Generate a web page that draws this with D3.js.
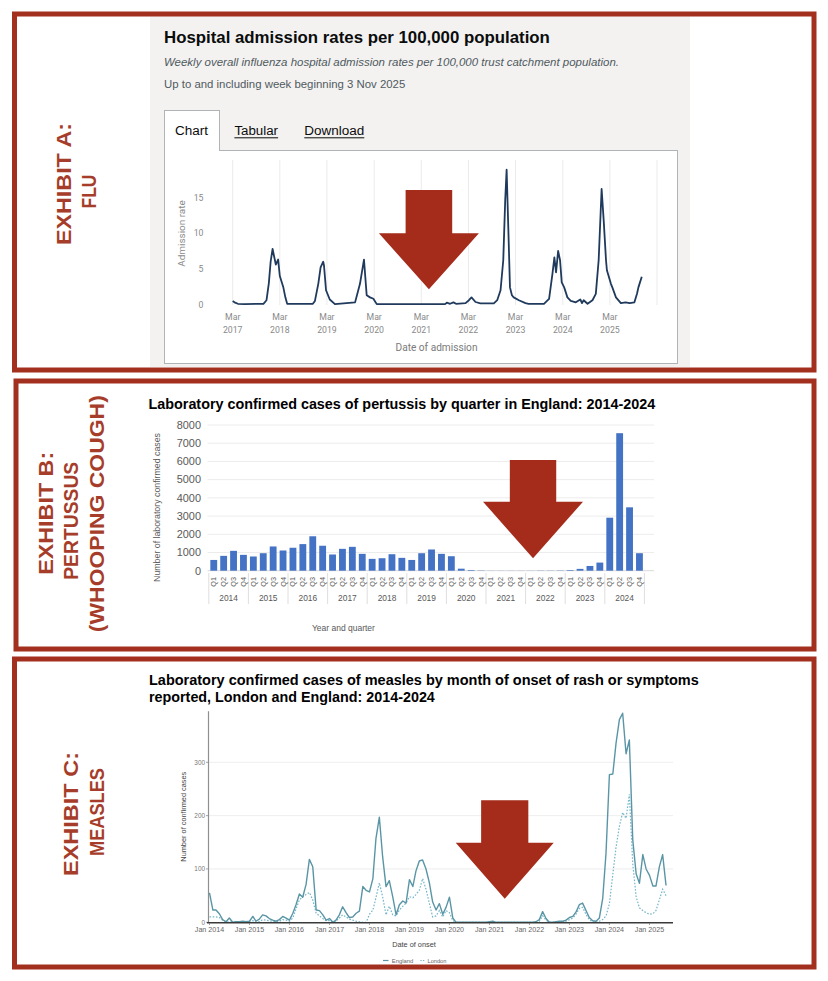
<!DOCTYPE html>
<html><head><meta charset="utf-8">
<script src="https://cdn.jsdelivr.net/npm/d3@7"></script>
<style>body{margin:0;background:#fff}svg{display:block}</style>
</head><body>
<svg id="chart" width="828" height="981"></svg>
<script>
// ---------------- DATA ----------------
// Exhibit A: weekly influenza hospital admission rate (key points)
const fluDates = ["2017-03-01","2017-03-15","2017-04-10","2017-06-01","2017-10-25","2017-11-18","2017-12-06","2017-12-20","2018-01-04","2018-01-14","2018-01-29","2018-02-16","2018-03-01","2018-03-27","2018-04-13","2018-04-27","2018-11-12","2018-11-28","2018-12-24","2019-01-11","2019-01-31","2019-02-06","2019-02-22","2019-03-23","2019-05-02","2019-10-05","2019-11-12","2019-12-13","2020-01-03","2020-01-29","2020-02-24","2020-03-21","2021-09-01","2021-09-15","2021-10-10","2021-11-05","2021-11-25","2022-02-07","2022-03-05","2022-03-25","2022-04-25","2022-06-02","2022-09-14","2022-10-10","2022-11-05","2022-11-26","2022-12-11","2022-12-22","2023-01-04","2023-01-17","2023-02-01","2023-02-15","2023-03-27","2023-05-17","2023-06-10","2023-10-07","2023-11-16","2023-12-12","2023-12-27","2024-01-09","2024-01-25","2024-02-09","2024-02-22","2024-03-12","2024-04-06","2024-05-02","2024-06-10","2024-07-15","2024-07-28","2024-08-10","2024-09-09","2024-10-17","2024-11-12","2024-12-04","2024-12-27","2025-01-12","2025-01-30","2025-02-06","2025-03-09","2025-03-20","2025-04-17","2025-05-25","2025-07-01","2025-08-01","2025-09-07","2025-09-27","2025-10-08","2025-11-03"];
const fluRates = [0.5,0.3,0.1,0.05,0.1,0.6,3.0,6.0,7.8,6.9,5.6,6.3,4.0,2.5,1.0,0.1,0.1,0.5,2.9,5.2,6.0,5.5,2.0,0.7,0.05,0.3,2.9,6.3,1.3,1.0,0.8,0.05,0.05,0.25,0.1,0.3,0.1,0.2,0.6,1.0,0.35,0.15,0.15,0.6,2.0,6.2,14.6,18.9,10.8,2.4,1.3,1.0,0.6,0.2,0.1,0.1,0.8,4.3,6.6,4.5,7.5,6.2,3.1,2.4,1.0,0.5,0.3,0.7,0.2,0.6,0.1,0.6,1.5,6.2,16.2,11.8,6.2,4.8,2.9,2.4,1.0,0.2,0.3,0.2,0.3,1.5,2.4,3.9];
const fluYTicks = [0,5,10,15];
const fluTickYears = [2017,2018,2019,2020,2021,2022,2023,2024,2025];
const fluGridYears = [2017,2018,2019,2020,2021,2022,2023,2024,2025,2026];

// Exhibit B: pertussis cases by quarter
const pertussisYears = [2014,2015,2016,2017,2018,2019,2020,2021,2022,2023,2024];
const pertussisQuarters = ["Q1","Q2","Q3","Q4"];
const pertussisCases = [590,815,1090,870, 780,960,1330,1110, 1260,1460,1890,1370, 890,1200,1310,925, 650,685,905,705, 590,960,1165,925, 795,110,35,15, 5,5,5,5, 5,10,10,15, 35,100,260,445, 2910,7550,3480,960];
const pertussisYTicks = [0,1000,2000,3000,4000,5000,6000,7000,8000];

// Exhibit C: measles cases by month (Jan 2014 - Jun 2025)
const measlesStart = "2014-01-01";
const measlesEngland = [55,23,23,16,5,1,8,0,1,1,2,1, 2,11,2,6,14,12,7,4,2,5,11,8, 4,17,33,53,47,71,118,104,23,22,14,4, 7,0,4,14,29,18,9,10,17,21,67,60, 57,82,157,197,123,67,78,48,14,33,40,36, 80,67,96,115,117,100,75,38,23,35,15,28, 47,8,0,0,0,0,0,0,0,0,0,0, 1,2,0,0,0,0,0,0,0,0,0,0, 0,0,1,5,20,7,0,0,1,2,2,4, 9,11,19,33,36,22,9,3,2,8,45,130, 277,278,335,380,392,316,342,155,91,73,127,100, 88,68,68,104,127,69];
const measlesLondon = [10,10,10,9,4,0,1,0,0,0,1,0, 0,3,0,1,5,4,3,2,1,2,5,4, 2,8,25,42,48,52,56,42,17,12,7,3, 3,0,2,8,14,10,6,4,2,1,0,0, 15,23,46,74,48,14,30,14,12,23,30,36, 48,46,52,60,82,62,36,10,12,22,10,22, 18,3,0,0,0,0,0,0,0,0,0,0, 0,0,0,0,0,0,0,0,0,0,0,0, 0,0,0,2,12,4,0,0,0,1,1,2, 5,8,15,26,28,15,5,1,0,2,5,12, 35,90,140,180,206,195,240,110,48,27,22,18, 15,16,22,42,62,50];
const measlesYTicks = [0,100,200,300];
const measlesTickYears = [2014,2015,2016,2017,2018,2019,2020,2021,2022,2023,2024,2025];

// Annotation arrows (in each chart's data units)
const fluArrow = {date:"2021-04-29", top:16.05, neck:9.98, tip:2.13};
const pertArrow = {quarterIndex:32.25, top:6080, neck:3790, tip:680};
const measlesArrow = {date:"2021-05-20", top:229, neck:149, tip:44};

// Side labels
const exhibitLabels = [
  ["EXHIBIT A:","FLU"],
  ["EXHIBIT B:","PERTUSSUS","(WHOOPING COUGH)"],
  ["EXHIBIT C:","MEASLES"]
];

// ---------------- HELPERS ----------------
const svg = d3.select("#chart");
const BORDER = "#a3301f", ARROW = "#a52b1b", EXH = "#a63d2a";
const ARIAL = "'Liberation Sans', Arial, Helvetica, sans-serif";
const ROBOTO = "Roboto, 'Liberation Sans', Arial, sans-serif";
const parse = d3.timeParse("%Y-%m-%d");
function fitW(t, w){ const L = t.node().getComputedTextLength(); const fs = parseFloat(t.attr("font-size")); t.attr("font-size", (fs*w/L).toFixed(2)); return t; }
function arrowPath(g, cx, yTop, yNeck, yTip, sh, hh){
  g.append("path").attr("d", `M${cx-sh},${yTop}H${cx+sh}V${yNeck}H${cx+hh}L${cx},${yTip}L${cx-hh},${yNeck}H${cx-sh}Z`).attr("fill", ARROW);
}
function vtext(g, txt, cx, cy, len, opts){
  const t = g.append("text").attr("text-anchor","middle").attr("dy","0.35em")
    .attr("transform", `translate(${cx},${cy}) rotate(-90)`)
    .attr("font-family", opts.family).attr("font-weight", opts.weight||400)
    .attr("font-size", opts.size||10).attr("fill", opts.fill).text(txt);
  if (len && opts.stretch) t.attr("textLength", len).attr("lengthAdjust","spacingAndGlyphs");
  else if (len) fitW(t, len);
  return t;
}

svg.append("rect").attr("width",828).attr("height",981).attr("fill","#fff");

// ================= EXHIBIT A: FLU =================
const gA = svg.append("g");
gA.append("rect").attr("x",150).attr("y",16).attr("width",540).attr("height",351).attr("fill","#f3f2f1");
fitW(gA.append("text").attr("x",164).attr("y",43).attr("font-family",ARIAL).attr("font-weight",700).attr("font-size",17).attr("fill","#0b0c0c").text("Hospital admission rates per 100,000 population"), 386);
fitW(gA.append("text").attr("x",164).attr("y",65.5).attr("font-family",ARIAL).attr("font-style","italic").attr("font-size",11.5).attr("fill","#505a5f").text("Weekly overall influenza hospital admission rates per 100,000 trust catchment population."), 455);
fitW(gA.append("text").attr("x",164).attr("y",87.5).attr("font-family",ARIAL).attr("font-size",12).attr("fill","#505a5f").text("Up to and including week beginning 3 Nov 2025"), 241.5);

// chart panel + tabs
gA.append("rect").attr("x",164.5).attr("y",150.5).attr("width",513).attr("height",213).attr("fill","#fff").attr("stroke","#b1b4b6");
gA.append("rect").attr("x",164.5).attr("y",110.5).attr("width",55).attr("height",40).attr("fill","#fff").attr("stroke","#b1b4b6");
gA.append("rect").attr("x",165).attr("y",149).attr("width",54).attr("height",3).attr("fill","#fff");
fitW(gA.append("text").attr("x",175).attr("y",135).attr("font-family",ARIAL).attr("font-size",13).attr("fill","#0b0c0c").text("Chart"), 33);
[["Tabular",234.4,43.7],["Download",304.3,60]].forEach(([s,x,w])=>{
  fitW(gA.append("text").attr("x",x).attr("y",135).attr("font-family",ARIAL).attr("font-size",13).attr("fill","#0b0c0c").text(s), w);
  gA.append("line").attr("x1",x).attr("x2",x+w).attr("y1",137.8).attr("y2",137.8).attr("stroke","#0b0c0c").attr("stroke-width",1);
});

const xF = d3.scaleTime().domain([new Date(2017,2,1), new Date(2026,2,1)]).range([232.7, 657]);
const yF = d3.scaleLinear().domain([0,15]).range([304.5,197.5]);
gA.selectAll(".fgrid").data(fluGridYears).join("line")
  .attr("x1",d=>xF(new Date(d,2,1))).attr("x2",d=>xF(new Date(d,2,1)))
  .attr("y1",160).attr("y2",305).attr("stroke","#ebebeb").attr("stroke-width",1);
let tmp = gA.append("text").attr("font-family",ROBOTO).attr("font-size",10).text("2017"); fitW(tmp,19.6); const fluFs = +tmp.attr("font-size"); tmp.remove();
fluTickYears.forEach(y=>{
  const x = xF(new Date(y,2,1));
  gA.append("text").attr("x",x).attr("y",320).attr("text-anchor","middle").attr("font-family",ROBOTO).attr("font-size",fluFs).attr("fill","#8a8a8a").text("Mar");
  gA.append("text").attr("x",x).attr("y",332.5).attr("text-anchor","middle").attr("font-family",ROBOTO).attr("font-size",fluFs).attr("fill","#8a8a8a").text(y);
});
fluYTicks.forEach(v=>{
  gA.append("text").attr("x",203.5).attr("y",yF(v)).attr("dy","0.35em").attr("text-anchor","end").attr("font-family",ROBOTO).attr("font-size",fluFs).attr("fill","#8a8a8a").text(v);
});
vtext(gA,"Admission rate",182,233.5,66.7,{family:ROBOTO,size:11,fill:"#8a8a8a"});
fitW(gA.append("text").attr("x",436.5).attr("y",350.5).attr("text-anchor","middle").attr("font-family",ROBOTO).attr("font-size",11).attr("fill","#7a7a7a").text("Date of admission"), 82);
const fluData = fluDates.map((d,i)=>({date:parse(d), v:fluRates[i]}));
gA.append("path").datum(fluData).attr("fill","none").attr("stroke","#1f3a5c").attr("stroke-width",1.8).attr("stroke-linejoin","round")
  .attr("d", d3.line().x(d=>xF(d.date)).y(d=>yF(d.v)));
arrowPath(gA, xF(parse(fluArrow.date)), yF(fluArrow.top), yF(fluArrow.neck), yF(fluArrow.tip), 23.3, 50);

// ================= EXHIBIT B: PERTUSSIS =================
const gB = svg.append("g");
fitW(gB.append("text").attr("x",148.5).attr("y",409).attr("font-family",ARIAL).attr("font-weight",700).attr("font-size",14).attr("fill","#000").text("Laboratory confirmed cases of pertussis by quarter in England: 2014-2024"), 507);
const keys = []; pertussisYears.forEach(y=>pertussisQuarters.forEach(q=>keys.push(y+"-"+q)));
const xP = d3.scaleBand().domain(keys).range([208.8,644.4]).paddingInner(0.31).paddingOuter(0.155);
const yP = d3.scaleLinear().domain([0,8000]).range([570.7,425]);
gB.selectAll(".pgrid").data(pertussisYTicks).join("line")
  .attr("x1",207.5).attr("x2",654).attr("y1",d=>yP(d)).attr("y2",d=>yP(d))
  .attr("stroke",d=>d===0?"#d9d9d9":"#ececec").attr("stroke-width",1);
tmp = gB.append("text").attr("font-family",ARIAL).attr("font-size",10).text("8000"); fitW(tmp,24.3); const pFs = +tmp.attr("font-size"); tmp.remove();
pertussisYTicks.forEach(v=>{
  gB.append("text").attr("x",201).attr("y",yP(v)).attr("dy","0.35em").attr("text-anchor","end").attr("font-family",ARIAL).attr("font-size",pFs).attr("fill","#595959").text(v);
});
gB.selectAll(".bar").data(keys).join("rect")
  .attr("x",d=>xP(d)).attr("width",xP.bandwidth())
  .attr("y",(d,i)=>yP(pertussisCases[i])).attr("height",(d,i)=>yP(0)-yP(pertussisCases[i]))
  .attr("fill","#4472c4");
const step = xP.step(), x0 = xP.range()[0];
pertussisYears.forEach((y,k)=>{
  const xl = x0 + 4*k*step;
  gB.append("line").attr("x1",xl).attr("x2",xl).attr("y1",573).attr("y2",604).attr("stroke","#dedede");
  gB.append("text").attr("x",xl+2*step).attr("y",600.5).attr("text-anchor","middle").attr("font-family",ARIAL).attr("font-size",8.4).attr("fill","#595959").text(y);
});
gB.append("line").attr("x1",x0+44*step).attr("x2",x0+44*step).attr("y1",573).attr("y2",604).attr("stroke","#dedede");
keys.forEach((k,i)=>{
  const cx = xP(k)+xP.bandwidth()/2;
  gB.append("text").attr("transform",`translate(${cx+2.5},577) rotate(-90)`).attr("text-anchor","end")
    .attr("font-family",ARIAL).attr("font-size",7.3).attr("fill","#595959").text(pertussisQuarters[i%4]);
});
vtext(gB,"Number of laboratory confirmed cases",157,507.5,149,{family:ARIAL,size:8,fill:"#595959"});
fitW(gB.append("text").attr("x",343.4).attr("y",630.5).attr("text-anchor","middle").attr("font-family",ARIAL).attr("font-size",8).attr("fill","#595959").text("Year and quarter"), 63);
const pcx = x0 + step*(xP.paddingOuter()+pertArrow.quarterIndex) + xP.bandwidth()/2;
arrowPath(gB, pcx, yP(pertArrow.top), yP(pertArrow.neck), yP(pertArrow.tip), 23.2, 50);

// ================= EXHIBIT C: MEASLES =================
const gC = svg.append("g");
fitW(gC.append("text").attr("x",149).attr("y",685).attr("font-family",ARIAL).attr("font-weight",700).attr("font-size",14).attr("fill","#000").text("Laboratory confirmed cases of measles by month of onset of rash or symptoms"), 550);
fitW(gC.append("text").attr("x",149).attr("y",701.7).attr("font-family",ARIAL).attr("font-weight",700).attr("font-size",14).attr("fill","#000").text("reported, London and England: 2014-2024"), 286);
const xM = d3.scaleTime().domain([new Date(2014,0,1), new Date(2025,0,1)]).range([209.5,649.5]);
const yM = d3.scaleLinear().domain([0,300]).range([922.3,762.3]);
measlesYTicks.filter(v=>v>0).forEach(v=>{
  gC.append("line").attr("x1",208.5).attr("x2",673).attr("y1",yM(v)).attr("y2",yM(v)).attr("stroke","#ececec").attr("stroke-width",0.9);
});
const m0 = parse(measlesStart);
const engData = measlesEngland.map((v,i)=>({date:d3.timeMonth.offset(m0,i), v}));
const lonData = measlesLondon.map((v,i)=>({date:d3.timeMonth.offset(m0,i), v}));
gC.append("line").attr("x1",208.5).attr("x2",208.5).attr("y1",yM(0)).attr("y2",yM(d3.max(measlesEngland))-2).attr("stroke","#8f8f8f").attr("stroke-width",1.2);
measlesYTicks.forEach(v=>{
  gC.append("line").attr("x1",206).attr("x2",208.5).attr("y1",yM(v)).attr("y2",yM(v)).attr("stroke","#8f8f8f").attr("stroke-width",0.8);
  gC.append("text").attr("x",205).attr("y",yM(v)).attr("dy","0.35em").attr("text-anchor","end").attr("font-family",ARIAL).attr("font-size",6.4).attr("fill","#777").text(v);
});
const lineM = d3.line().x(d=>xM(d.date)).y(d=>yM(d.v));
gC.append("path").datum(lonData).attr("fill","none").attr("stroke","#74b6c9").attr("stroke-width",1.2).attr("stroke-dasharray","1.6,1.6").attr("d",lineM);
gC.append("path").datum(engData).attr("fill","none").attr("stroke","#5a95a6").attr("stroke-width",1.4).attr("stroke-linejoin","round").attr("d",lineM);
gC.append("line").attr("x1",207).attr("x2",673).attr("y1",922.8).attr("y2",922.8).attr("stroke","#3a3a3a").attr("stroke-width",1.4);
tmp = gC.append("text").attr("font-family",ARIAL).attr("font-size",8).text("Jan 2014"); fitW(tmp,29.3); const mFs = +tmp.attr("font-size"); tmp.remove();
measlesTickYears.forEach(y=>{
  const x = xM(new Date(y,0,1));
  gC.append("line").attr("x1",x).attr("x2",x).attr("y1",923).attr("y2",925).attr("stroke","#777").attr("stroke-width",0.7);
  gC.append("text").attr("x",x).attr("y",931.5).attr("text-anchor","middle").attr("font-family",ARIAL).attr("font-size",mFs).attr("fill","#666").text("Jan "+y);
});
vtext(gC,"Number of confirmed cases",183,816.7,90,{family:ARIAL,size:7,fill:"#444"});
fitW(gC.append("text").attr("x",414).attr("y",946.5).attr("text-anchor","middle").attr("font-family",ARIAL).attr("font-size",7.5).attr("fill","#444").text("Date of onset"), 43.6);
// legend
gC.append("line").attr("x1",383).attr("x2",388.5).attr("y1",960.5).attr("y2",960.5).attr("stroke","#5a95a6").attr("stroke-width",1.2);
fitW(gC.append("text").attr("x",391.8).attr("y",962.5).attr("font-family",ARIAL).attr("font-size",5.5).attr("fill","#666").text("England"),21.4);
gC.append("line").attr("x1",420.4).attr("x2",425).attr("y1",960.5).attr("y2",960.5).attr("stroke","#74b6c9").attr("stroke-width",1.2).attr("stroke-dasharray","1.3,1.3");
fitW(gC.append("text").attr("x",427.5).attr("y",962.5).attr("font-family",ARIAL).attr("font-size",5.5).attr("fill","#666").text("London"),18.9);
arrowPath(gC, xM(parse(measlesArrow.date)), yM(measlesArrow.top), yM(measlesArrow.neck), yM(measlesArrow.tip), 23.6, 49);

// ================= EXHIBIT LABELS =================
const gE = svg.append("g");
const ex = {family:ARIAL, weight:700, size:21, fill:EXH, stretch:true};
const exPos = [
  [[64,184,122],[88.5,191.5,34]],
  [[46,513.3,123],[71,520.8,118],[96.5,513.7,237]],
  [[71,814,124],[96.5,812,88]]
];
exhibitLabels.forEach((lines,p)=>lines.forEach((s,j)=>{
  const [cx,cy,len] = exPos[p][j];
  vtext(gE, s, cx, cy, len, ex);
}));

// ================= PANEL BORDERS =================
[[14.5,14,814,370],[16,381,814,649],[14.5,659,814,967]].forEach(([l,t,r,b])=>{
  svg.append("rect").attr("x",l).attr("y",t).attr("width",r-l).attr("height",b-t).attr("fill","none").attr("stroke",BORDER).attr("stroke-width",5);
});
</script>
</body></html>
